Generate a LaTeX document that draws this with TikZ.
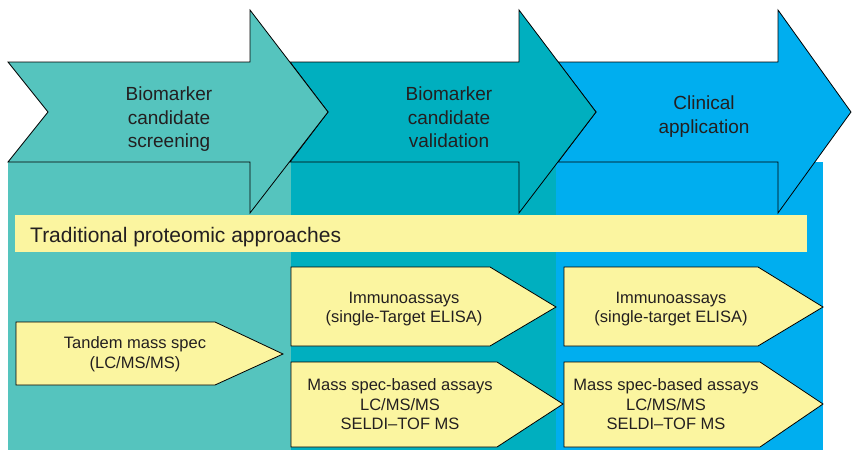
\documentclass[tikz,border=0pt]{standalone}
\usepackage{fontspec}
\setmainfont{Liberation Sans}
\usepackage{tikz}
\usetikzlibrary{positioning}

\definecolor{screenteal}{HTML}{55C4BE}
\definecolor{validteal}{HTML}{00AFBF}
\definecolor{clinblue}{HTML}{00AEEF}
\definecolor{boxyellow}{HTML}{FBF5A0}
\definecolor{inkblack}{HTML}{231F20}

\begin{document}
\begin{tikzpicture}[x=1pt,y=-1pt]
		\tikzset{stage style/.style={draw=black, line width=0.8pt},
				box style/.style={draw=black, line width=0.8pt, fill=boxyellow},
				stage text/.style={align=center, text=inkblack,
				font=\fontsize{19}{23.5}\selectfont},
				box text/.style={align=center, text=inkblack,
				font=\fontsize{16.5}{19.5}\selectfont}}
		\useasboundingbox (0,0) rectangle (852,450);
		
		% Background columns
		\fill[screenteal] (8,162) rectangle (291,450);
		\fill[validteal] (291,162) rectangle (556,450);
		\fill[clinblue] (556,162) rectangle (823,450);
		
		% Draw the stage arrows
		\draw[stage style, fill=clinblue] (558,62) -- (778,62) -- (778,10) -- (851,112)
			-- (778,213) -- (778,162) -- (558,162) -- (596,112) -- cycle;
		\draw[stage style, fill=validteal] (290,62) -- (519,62) -- (519,10) -- (596,112)
			-- (519,213) -- (519,162) -- (290,162) -- (328,112) -- cycle;
		\draw[stage style, fill=screenteal] (8,62) -- (250,62) -- (250,10) -- (328,112)
			-- (250,213) -- (250,162) -- (8,162) -- (48,112) -- cycle;
		\node[stage text] at (169,119.5) (screening) {Biomarker\\candidate\\screening};
		\node[stage text] at (449,117.5) (validation) {Biomarker\\candidate\\validation};
		\node[stage text] at (704,116.5) (clinical) {Clinical\\application};
		
		% Traditional bar
		\fill[boxyellow] (15,215) rectangle (807,252);
		\node[anchor=base west, inner sep=0pt, text=inkblack, font=\fontsize{21}{25}\selectfont]
			at (30,242) (traditional) {Traditional proteomic approaches};
		
		% Method boxes
		\draw[box style] (16,322) -- (215,322) -- (283,354) -- (215,385) -- (16,385) -- cycle;
		\draw[box style] (291,267) -- (490,267) -- (556,307) -- (490,346) -- (291,346) -- cycle;
		\draw[box style] (291,362) -- (497,362) -- (563,404) -- (497,447) -- (291,447) -- cycle;
		\draw[box style] (564,267) -- (758,267) -- (823,307) -- (758,346) -- (564,346) -- cycle;
		\draw[box style] (564,362) -- (760,362) -- (823,404) -- (760,447) -- (564,447) -- cycle;
		
		\node[box text] at (135,354) (tandem) {Tandem mass spec\\(LC/MS/MS)};
		\node[box text] at (404,309) (immunoval) {Immunoassays\\(single-Target ELISA)};
		\node[box text] at (400,404.5) (massval) {Mass spec-based assays\\LC/MS/MS\\SELDI–TOF MS};
		\node[box text] at (671,309) (immunoclin) {Immunoassays\\(single-target ELISA)};
		\node[box text] at (666,404.5) (massclin) {Mass spec-based assays\\LC/MS/MS\\SELDI–TOF MS};
		
\end{tikzpicture}
\end{document}
